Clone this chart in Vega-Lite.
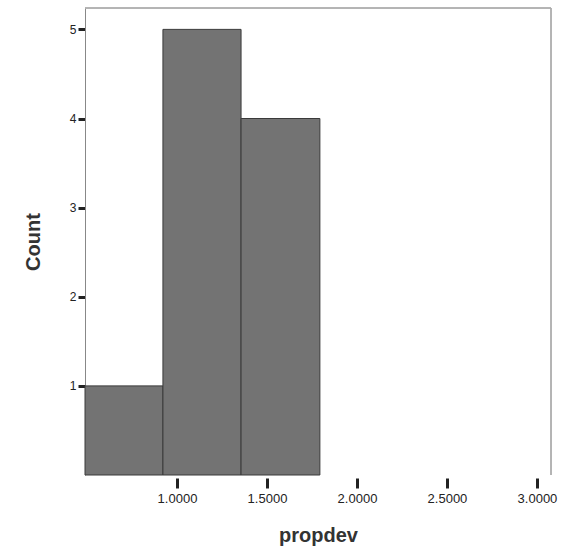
{
  "$schema": "https://vega.github.io/schema/vega-lite/v6.json",
  "autosize": "none",
  "width": 466,
  "height": 467,
  "padding": {"left": 85, "top": 8, "right": 11, "bottom": 81},
  "background": "white",
  "config": {"view": {"stroke": null}, "font": "Liberation Sans"},
  "data": {"values": [
    {"bin_start": 0.489, "bin_end": 0.922, "count": 1},
    {"bin_start": 0.922, "bin_end": 1.356, "count": 5},
    {"bin_start": 1.356, "bin_end": 1.794, "count": 4}
  ]},
  "layer": [
    {
      "mark": {"type": "rect", "fill": "#737373", "stroke": "#3a3a3a", "strokeWidth": 1},
      "encoding": {
        "x": {"field": "bin_start", "type": "quantitative",
          "scale": {"domain": [0.489, 3.078], "nice": false, "zero": false},
          "axis": {"values": [1, 1.5, 2, 2.5, 3], "format": ".4f", "title": "propdev",
            "domain": false, "offset": 3, "tickSize": 10, "tickWidth": 3, "tickColor": "#222",
            "labelFontSize": 13, "labelColor": "#222", "labelPadding": 4, "grid": false,
            "titleFontSize": 20, "titleFontWeight": "bold", "titleColor": "#333", "titlePadding": 20}},
        "x2": {"field": "bin_end"},
        "y": {"field": "count", "type": "quantitative",
          "scale": {"domain": [0, 5.24], "nice": false},
          "axis": {"values": [1, 2, 3, 4, 5], "format": "d", "title": "Count",
            "domain": true, "domainColor": "#888", "tickSize": 7, "tickWidth": 3, "tickColor": "#222",
            "labelFontSize": 12, "labelColor": "#222", "labelPadding": 2, "grid": false,
            "titleFontSize": 20, "titleFontWeight": "bold", "titleColor": "#333", "titlePadding": 26}},
        "y2": {"datum": 0}
      }
    },
    {
      "mark": {"type": "rule", "color": "#aaa", "strokeWidth": 1},
      "encoding": {"y": {"datum": 5.24}}
    },
    {
      "mark": {"type": "rule", "color": "#aaa", "strokeWidth": 1},
      "encoding": {"x": {"datum": 3.078}}
    }
  ]
}
